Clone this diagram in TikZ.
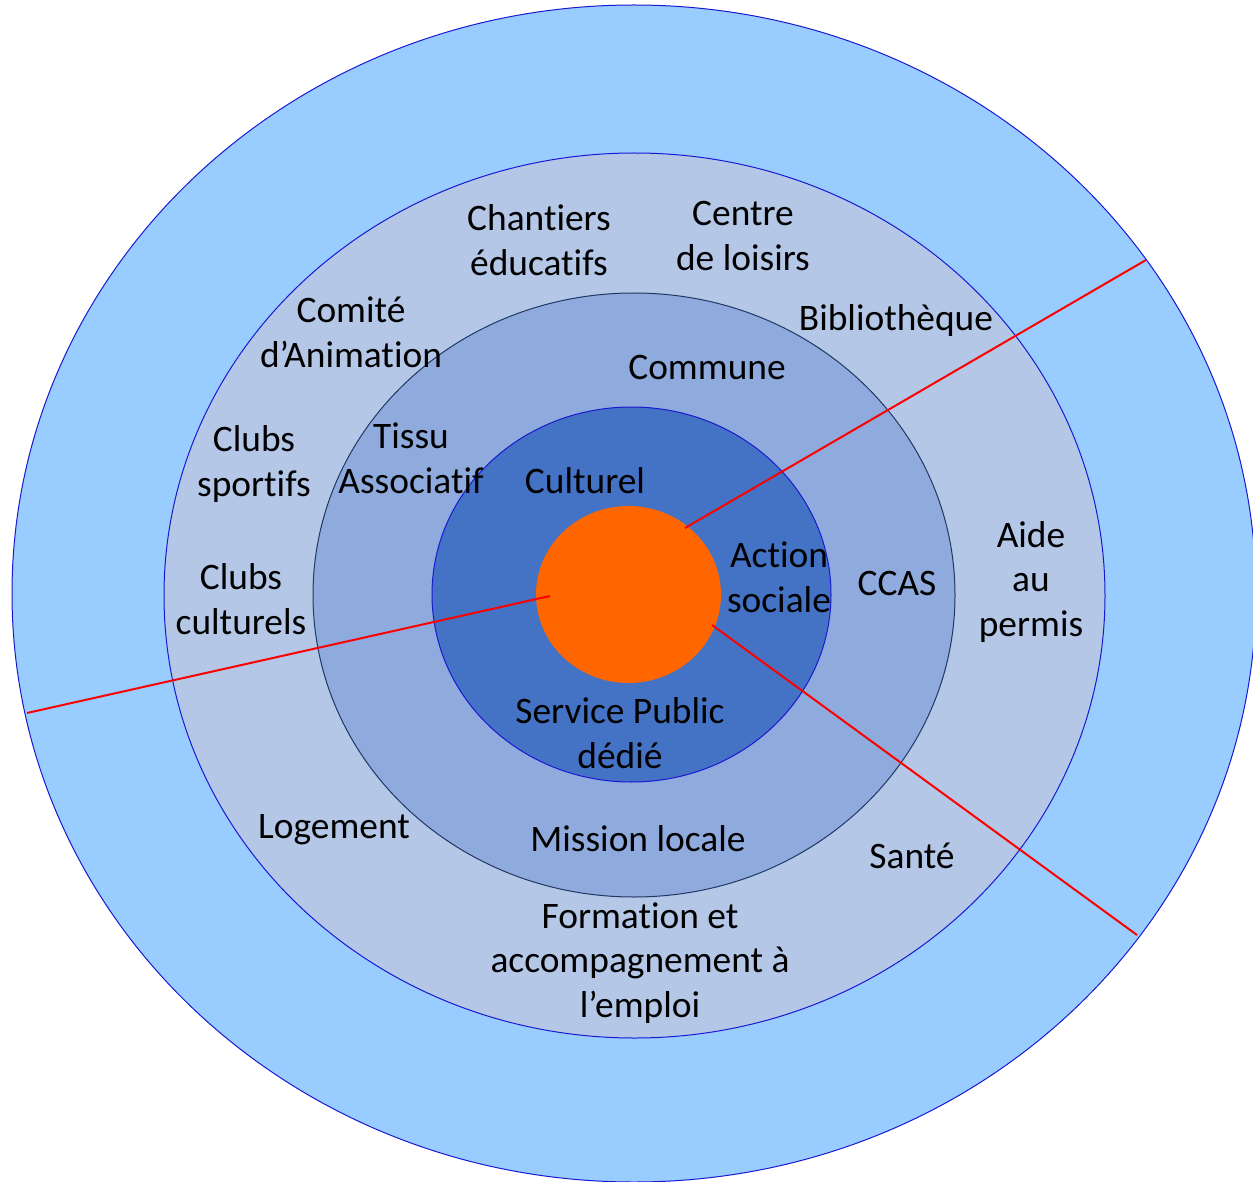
\documentclass[tikz,border=0pt]{standalone}
\usepackage{fontspec}
\setmainfont{Carlito}[Ligatures={NoCommon}]
\definecolor{ringA}{HTML}{99CCFF}
\definecolor{ringB}{HTML}{B4C7E7}
\definecolor{ringC}{HTML}{8FAADC}
\definecolor{ringD}{HTML}{4472C4}
\definecolor{core}{HTML}{FF6600}
\definecolor{edgeblue}{RGB}{25,25,210}
\definecolor{edgenavy}{RGB}{32,56,100}
\tikzset{
  ring/.style={draw=edgeblue, line width=0.5pt},
  lbl/.style={align=center, inner sep=0pt, font=\fontsize{18.7}{22.3}\selectfont},
  spoke/.style={draw=red, line width=1pt}
}
\begin{document}
\begin{tikzpicture}[x=0.5pt, y=-0.5pt]
\useasboundingbox (0,0) rectangle (1253,1182);
% rings
\draw[ring, fill=ringA] (634,593.5) ellipse [x radius=622, y radius=588.5];
\draw[ring, fill=ringB] (634.5,595.5) ellipse [x radius=470.5, y radius=442.5];
\draw[ring, draw=edgenavy, fill=ringC] (634,595) ellipse [x radius=321, y radius=302];
\draw[ring, fill=ringD] (631.5,594.5) ellipse [x radius=199.5, y radius=187.5];
\fill[core] (628.5,594.5) ellipse [x radius=92.5, y radius=88.5];
% spokes
\coordinate (s1a) at (685,528);
\coordinate (s1b) at (1146,260);
\coordinate (s2a) at (550,596);
\coordinate (s2b) at (27,713);
\coordinate (s3a) at (712,625);
\coordinate (s3b) at (1137,935);
\draw[spoke] (s1a) -- (s1b);
\draw[spoke] (s2a) -- (s2b);
\draw[spoke] (s3a) -- (s3b);
% labels
\node[lbl] (chantiers) at (539,240) {Chantiers\\éducatifs};
\node[lbl] (loisirs) at (743,236) {Centre\\de loisirs};
\node[lbl] (comite) at (351,332) {Comité\\d’Animation};
\node[lbl] (biblio) at (896,321) {Bibliothèque};
\node[lbl] (commune) at (707,368) {Commune};
\node[lbl] (sportifs) at (254,464) {Clubs\\sportifs};
\node[lbl] (tissu) at (411,458) {Tissu\\Associatif};
\node[lbl] (culturel) at (585,481) {Culturel};
\node[lbl] (action) at (779,577) {Action\\sociale};
\node[lbl] (ccas) at (897,583) {CCAS};
\node[lbl] (permis) at (1031,582) {Aide\\au\\permis};
\node[lbl] (culturels) at (241,599) {Clubs\\culturels};
\node[lbl] (service) at (620,733) {Service Public\\dédié};
\node[lbl] (logement) at (334,830) {Logement};
\node[lbl] (mission) at (638,839) {Mission locale};
\node[lbl] (sante) at (912,856) {Santé};
\node[lbl] (formation) at (640,963) {Formation et\\accompagnement à\\l’emploi};
\end{tikzpicture}
\end{document}
